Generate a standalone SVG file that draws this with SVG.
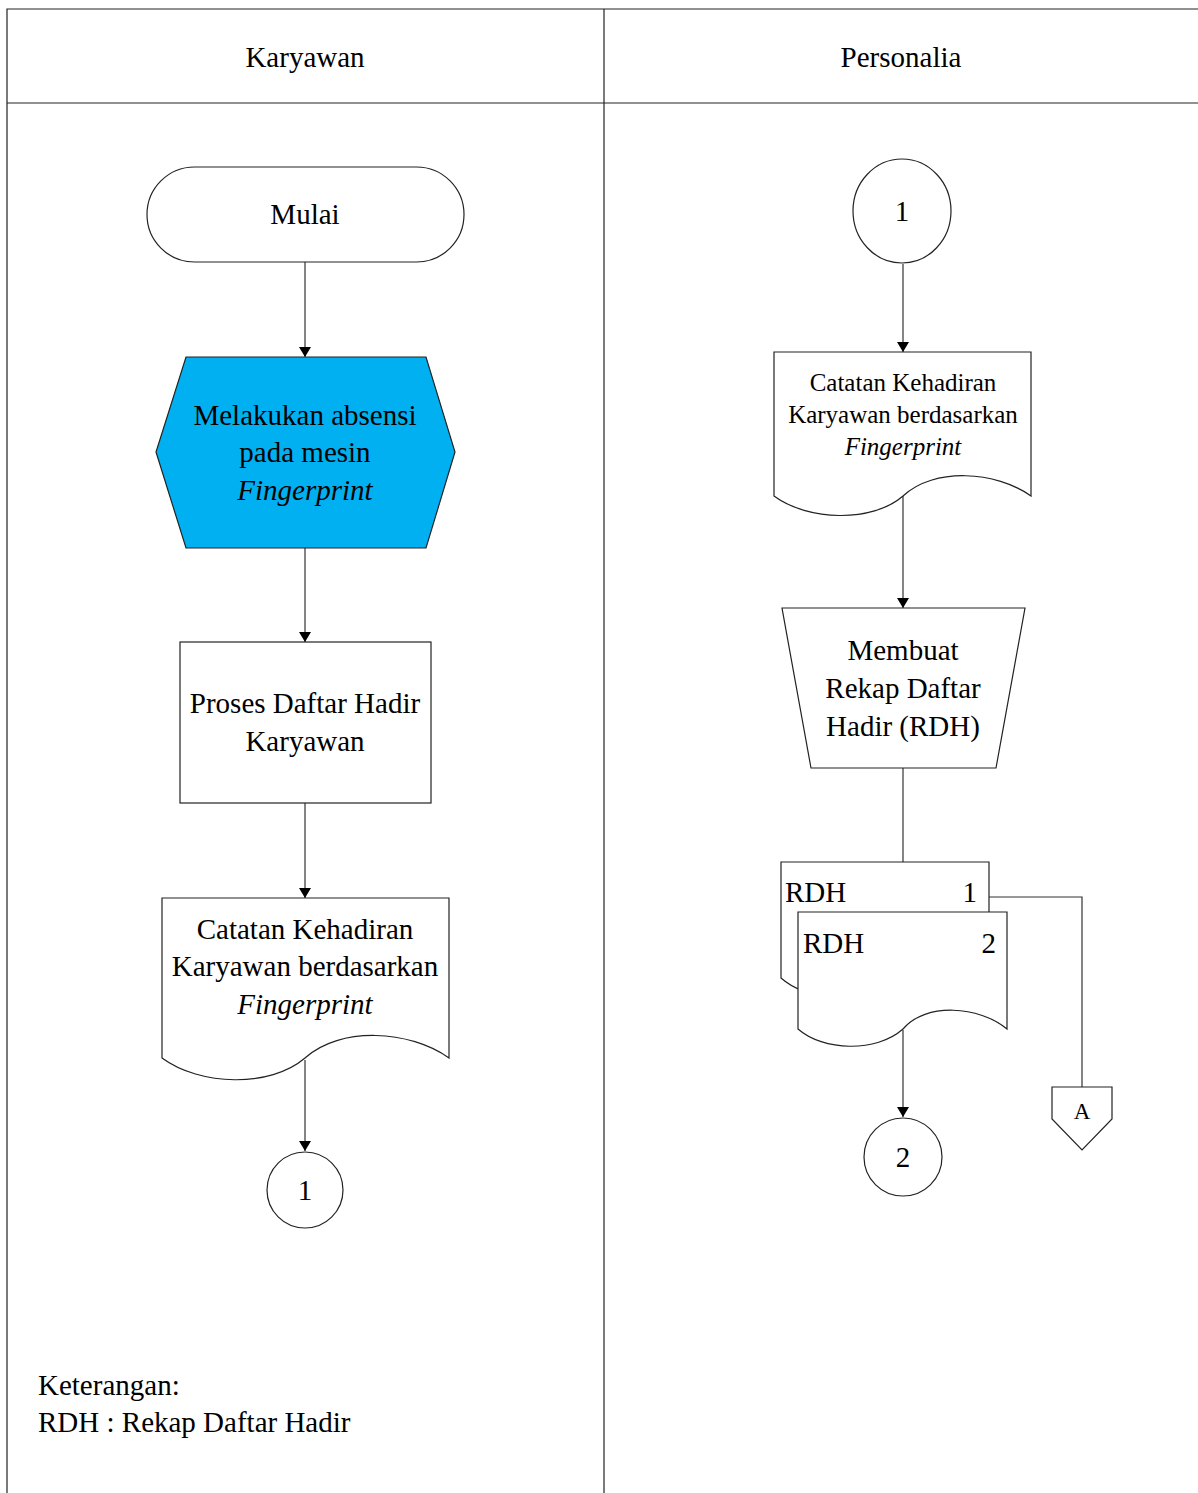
<svg xmlns="http://www.w3.org/2000/svg" width="1198" height="1493" viewBox="0 0 1198 1493">
  <defs>
    <marker id="arrow" viewBox="0 0 10 12" refX="10" refY="6" markerWidth="10" markerHeight="12" markerUnits="userSpaceOnUse" orient="auto">
      <path d="M0,0 L10,6 L0,12 Z" fill="#000"/>
    </marker>
    <style>
      .frame { fill: none; stroke: #222; stroke-width: 1.2; }
      .shape { fill: #fff; stroke: #222; stroke-width: 1.2; }
      .proc { fill: #00B0F0; stroke: #222; stroke-width: 1.2; }
      .link { fill: none; stroke: #333; stroke-width: 1.2; }
      .t { font-family: "Liberation Serif", "Times New Roman", serif; font-size: 29px; fill: #000; text-anchor: middle; }
      .ts { font-family: "Liberation Serif", "Times New Roman", serif; font-size: 25px; fill: #000; text-anchor: middle; }
      .tl { font-family: "Liberation Serif", "Times New Roman", serif; font-size: 29px; fill: #000; }
      .it { font-style: italic; }
    </style>
  </defs>

  <rect x="0" y="0" width="1198" height="1493" fill="#fff"/>

  <!-- swimlane frame -->
  <g id="lanes">
    <path class="frame" d="M7,1493 L7,9 L1198,9"/>
    <path class="frame" d="M7,103 L1198,103"/>
    <path class="frame" d="M604,9 L604,1493"/>
    <text class="t" x="305" y="67">Karyawan</text>
    <text class="t" x="901" y="67">Personalia</text>
  </g>

  <!-- connectors -->
  <g id="connectors">
    <path class="link" d="M305,262 L305,357" marker-end="url(#arrow)"/>
    <path class="link" d="M305,548 L305,642" marker-end="url(#arrow)"/>
    <path class="link" d="M305,803 L305,898" marker-end="url(#arrow)"/>
    <path class="link" d="M305,1060 L305,1151" marker-end="url(#arrow)"/>
    <path class="link" d="M903,264 L903,352" marker-end="url(#arrow)"/>
    <path class="link" d="M903,496 L903,608" marker-end="url(#arrow)"/>
    <path class="link" d="M903,768 L903,862"/>
    <path class="link" d="M989,897 L1082,897 L1082,1087"/>
    <path class="link" d="M903,1030 L903,1117" marker-end="url(#arrow)"/>
  </g>

  <!-- Karyawan lane -->
  <g id="mulai">
    <rect class="shape" x="147" y="167" width="317" height="95" rx="47.5" ry="47.5"/>
    <text class="t" x="305" y="224">Mulai</text>
  </g>

  <g id="absensi">
    <path class="proc" d="M186,357 L426,357 L455,452 L426,548 L186,548 L156,452 Z"/>
    <text class="t" x="305" y="425">Melakukan absensi</text>
    <text class="t" x="305" y="462">pada mesin</text>
    <text class="t it" x="305" y="500">Fingerprint</text>
  </g>

  <g id="proses-daftar-hadir">
    <rect class="shape" x="180" y="642" width="251" height="161"/>
    <text class="t" x="305" y="713">Proses Daftar Hadir</text>
    <text class="t" x="305" y="751">Karyawan</text>
  </g>

  <g id="catatan-kehadiran-1">
    <path class="shape" d="M162,898 L449,898 L449,1058 C410,1030 340,1026 305,1058 C270,1088 200,1086 162,1058 Z"/>
    <text class="t" x="305" y="939">Catatan Kehadiran</text>
    <text class="t" x="305" y="976">Karyawan berdasarkan</text>
    <text class="t it" x="305" y="1014">Fingerprint</text>
  </g>

  <g id="konektor-1-out">
    <circle class="shape" cx="305" cy="1190" r="38"/>
    <text class="t" x="305" y="1200">1</text>
  </g>

  <g id="keterangan">
    <text class="tl" x="38" y="1395">Keterangan:</text>
    <text class="tl" x="38" y="1432">RDH : Rekap Daftar Hadir</text>
  </g>

  <!-- Personalia lane -->
  <g id="konektor-1-in">
    <ellipse class="shape" cx="902" cy="211" rx="49" ry="52"/>
    <text class="t" x="902" y="221">1</text>
  </g>

  <g id="catatan-kehadiran-2">
    <path class="shape" d="M774,352 L1031,352 L1031,496 C996,471 934,467 903,496 C872,523 808,521 774,496 Z"/>
    <text class="ts" x="903" y="391">Catatan Kehadiran</text>
    <text class="ts" x="903" y="423">Karyawan berdasarkan</text>
    <text class="ts it" x="903" y="455">Fingerprint</text>
  </g>

  <g id="membuat-rdh">
    <path class="shape" d="M782,608 L1025,608 L996,768 L811,768 Z"/>
    <text class="t" x="903" y="660">Membuat</text>
    <text class="t" x="903" y="698">Rekap Daftar</text>
    <text class="t" x="903" y="736">Hadir (RDH)</text>
  </g>

  <g id="rdh-1">
    <path class="shape" d="M781,862 L989,862 L989,978 C961,955 906,951 880,978 C854,1002 806,1000 781,978 Z"/>
    <text class="tl" x="785" y="902">RDH</text>
    <text class="tl" x="977" y="902" text-anchor="end">1</text>
  </g>

  <g id="rdh-2">
    <path class="shape" d="M798,912 L1007,912 L1007,1029 C979,1006 926,1002 903,1029 C876,1053 823,1051 798,1029 Z"/>
    <text class="tl" x="803" y="953">RDH</text>
    <text class="tl" x="996" y="953" text-anchor="end">2</text>
  </g>

  <g id="konektor-2">
    <circle class="shape" cx="903" cy="1157" r="39"/>
    <text class="t" x="903" y="1167">2</text>
  </g>

  <g id="offpage-a">
    <path class="shape" d="M1052,1087 L1112,1087 L1112,1119 L1082,1150 L1052,1119 Z"/>
    <text class="t" x="1082" y="1119" style="font-size:23px">A</text>
  </g>
</svg>
